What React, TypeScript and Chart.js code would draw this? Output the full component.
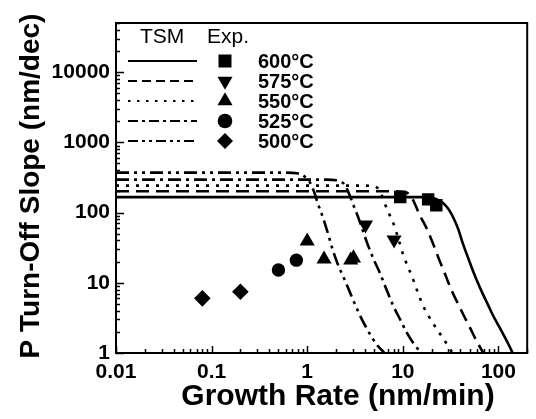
import React, { useEffect, useRef } from 'react';
import { Chart, registerables } from 'chart.js';

Chart.register(...registerables);

const FONT = "Arial, 'Liberation Sans', Helvetica, sans-serif";

// Axis ticks
const xTickValues = [0.01, 0.1, 1, 10, 100];
const xTickLabels = ['0.01', '0.1', '1', '10', '100'];
const yTickValues = [1, 10, 100, 1000, 10000];
const yTickLabels = ['1', '10', '100', '1000', '10000'];

const temperatureLabels = ['600°C', '575°C', '550°C', '525°C', '500°C'];

// TSM model curves
const tsm600X = [0.01, 16, 20, 23, 26.5, 30, 33.4, 38, 42.4, 48, 53.7, 60, 68.2, 77, 87, 98, 110, 125, 141, 160];
const tsm600Y = [166, 166, 163, 152, 136, 112, 87, 58, 36.3, 23, 15.2, 10.5, 7.07, 5, 3.5, 2.6, 1.95, 1.4, 1.0, 0.7];

const tsm575X = [0.01, 8, 10, 11.5, 12.8, 14, 15, 16.3, 17.7, 19.5, 21.4, 24.1, 27, 30, 33.4, 37.6, 43, 49.2, 58.1, 68.7, 78];
const tsm575Y = [201, 201, 198, 185, 150, 115, 92, 75, 60, 44, 32.2, 21, 14.5, 10, 7.1, 5.1, 3.5, 2.45, 1.55, 1.03, 0.75];

const tsm550X = [0.01, 4, 4.8, 5.4, 5.9, 6.3, 7.1, 8.0, 9.0, 10.1, 11.5, 12.9, 14.5, 16.3, 18.5, 20.9, 23.5, 26.5, 29.5, 32.8, 37];
const tsm550Y = [242, 242, 238, 225, 190, 148, 100, 69, 42, 25, 16, 10.9, 7, 4.7, 3.4, 2.6, 2.05, 1.6, 1.28, 1.02, 0.78];

const tsm525X = [0.01, 1.6, 2.0, 2.2, 2.43, 2.7, 3.08, 3.5, 4.23, 5.0, 5.77, 6.8, 8.0, 9.5, 11, 13.3, 15.7, 18];
const tsm525Y = [294, 294, 288, 276, 255, 195, 122, 78, 37, 21, 13.7, 7.8, 4.6, 2.9, 1.95, 1.3, 1.0, 0.8];

const tsm500X = [0.01, 0.6, 0.78, 0.9, 1.0, 1.09, 1.2, 1.29, 1.4, 1.52, 1.65, 1.84, 2.1, 2.45, 2.8, 3.11, 3.5, 4.04, 4.77, 5.5, 6.45, 7.5];
const tsm500Y = [370, 370, 362, 340, 300, 255, 185, 135, 100, 72, 50, 30, 18, 11.2, 7.3, 5.2, 3.6, 2.45, 1.65, 1.25, 1.0, 0.78];

// Experimental points
const exp600X = [9.4, 18.4, 22.4];
const exp600Y = [167, 154, 127];
const exp575X = [4.07, 8.1];
const exp575Y = [66.8, 41];
const exp550X = [1.0, 1.5, 2.85, 3.05];
const exp550Y = [39, 21.7, 21, 22.5];
const exp525X = [0.5, 0.77];
const exp525Y = [15.2, 21];
const exp500X = [0.08, 0.2];
const exp500Y = [6, 7.45];

const DASHES: number[][] = [[], [13, 7], [3, 7], [13, 5, 3, 5], [13, 5, 3, 5, 3, 5]];
const LEGEND_DASHES: number[][] = [[], [9, 5], [2.5, 6.5], [10, 4, 3, 4], [10, 4, 3, 4, 3, 4]];

const pts = (xs: number[], ys: number[]) => xs.map((x, i) => ({ x, y: ys[i] }));

function drawMarker(ctx: CanvasRenderingContext2D, kind: number, x: number, y: number) {
  ctx.beginPath();
  if (kind === 0) {
    const s = 13;
    ctx.rect(x - s / 2, y - s / 2, s, s);
  } else if (kind === 1) {
    const r = 8.7;
    ctx.moveTo(x, y + r);
    ctx.lineTo(x + r * 0.866, y - r / 2);
    ctx.lineTo(x - r * 0.866, y - r / 2);
    ctx.closePath();
  } else if (kind === 2) {
    const r = 8.7;
    ctx.moveTo(x, y - r);
    ctx.lineTo(x + r * 0.866, y + r / 2);
    ctx.lineTo(x - r * 0.866, y + r / 2);
    ctx.closePath();
  } else if (kind === 3) {
    ctx.arc(x, y, 7.3, 0, Math.PI * 2);
  } else {
    const r = 8;
    ctx.moveTo(x - r, y);
    ctx.lineTo(x, y - r);
    ctx.lineTo(x + r, y);
    ctx.lineTo(x, y + r);
    ctx.closePath();
  }
  ctx.fill();
}

const decorPlugin = {
  id: 'decor',
  afterDraw(chart: any) {
    const { ctx, chartArea: a, scales } = chart;
    const xs = scales.x;
    const ys = scales.y;
    ctx.save();
    ctx.strokeStyle = '#000';
    ctx.fillStyle = '#000';
    // frame
    ctx.lineWidth = 2;
    ctx.setLineDash([]);
    ctx.strokeRect(a.left, a.top, a.right - a.left, a.bottom - a.top);
    // inward ticks
    ctx.lineWidth = 1.5;
    ctx.beginPath();
    for (let e = -2; e <= 2; e++) {
      for (let m = 1; m <= 9; m++) {
        const v = m * Math.pow(10, e);
        if (v < xs.min - 1e-12 || v > xs.max) continue;
        const px = Math.round(xs.getPixelForValue(v)) + 0.5;
        const len = m === 1 ? 7 : 4;
        ctx.moveTo(px, a.bottom);
        ctx.lineTo(px, a.bottom - len);
      }
    }
    for (let e = 0; e <= 4; e++) {
      for (let m = 1; m <= 9; m++) {
        const v = m * Math.pow(10, e);
        if (v < ys.min || v > ys.max) continue;
        const py = Math.round(ys.getPixelForValue(v)) + 0.5;
        const len = m === 1 ? 8 : 4;
        ctx.moveTo(a.left, py);
        ctx.lineTo(a.left + len, py);
      }
    }
    ctx.stroke();

    // axis titles
    ctx.textAlign = 'center';
    ctx.textBaseline = 'middle';
    ctx.font = `bold 30px ${FONT}`;
    ctx.fillText('Growth Rate (nm/min)', 338, 397);
    ctx.save();
    ctx.translate(31, 186);
    ctx.rotate(-Math.PI / 2);
    ctx.font = `bold 28px ${FONT}`;
    ctx.fillText('P Turn-Off Slope (nm/dec)', 0, 0);
    ctx.restore();

    // legend
    ctx.textAlign = 'left';
    ctx.font = `21px ${FONT}`;
    ctx.fillText('TSM', 140, 37);
    ctx.fillText('Exp.', 207, 37);
    const rows = [61, 81, 101, 121, 141];
    ctx.font = `bold 20px ${FONT}`;
    rows.forEach((ry, i) => {
      ctx.lineWidth = 2;
      ctx.setLineDash(LEGEND_DASHES[i]);
      ctx.beginPath();
      ctx.moveTo(128, ry);
      ctx.lineTo(197, ry);
      ctx.stroke();
      ctx.setLineDash([]);
      drawMarker(ctx, i, 225, ry);
      ctx.fillText(temperatureLabels[i], 258, ry + 1);
    });
    ctx.restore();
  },
};

export default function App() {
  const ref = useRef<HTMLCanvasElement>(null);

  useEffect(() => {
    if (!ref.current) return;
    const curves = [
      pts(tsm600X, tsm600Y),
      pts(tsm575X, tsm575Y),
      pts(tsm550X, tsm550Y),
      pts(tsm525X, tsm525Y),
      pts(tsm500X, tsm500Y),
    ];
    const lineSets = curves.map((data, i) => ({
      label: 'TSM ' + temperatureLabels[i],
      data,
      showLine: true,
      borderColor: '#000',
      borderWidth: 2.6,
      borderDash: DASHES[i],
      borderCapStyle: 'butt' as const,
      pointRadius: 0,
      cubicInterpolationMode: 'monotone' as const,
      order: 2,
    }));
    const expSets = [
      { data: pts(exp600X, exp600Y), pointStyle: 'rect', pointRadius: 8.8, rotation: 0 },
      { data: pts(exp575X, exp575Y), pointStyle: 'triangle', pointRadius: 8.7, rotation: 180 },
      { data: pts(exp550X, exp550Y), pointStyle: 'triangle', pointRadius: 8.7, rotation: 0 },
      { data: pts(exp525X, exp525Y), pointStyle: 'circle', pointRadius: 6.7, rotation: 0 },
      { data: pts(exp500X, exp500Y), pointStyle: 'rectRot', pointRadius: 8.3, rotation: 0 },
    ].map((d, i) => ({
      label: 'Exp. ' + temperatureLabels[i],
      data: d.data,
      showLine: false,
      pointStyle: d.pointStyle,
      pointRadius: d.pointRadius,
      pointRotation: d.rotation,
      pointBackgroundColor: '#000',
      pointBorderWidth: 0,
      borderColor: '#000',
      backgroundColor: '#000',
      order: 1,
    }));

    const tickFont = { family: FONT, size: 21, weight: 'bold' as const };
    const chart = new Chart(ref.current, {
      type: 'scatter',
      data: { datasets: [...lineSets, ...expSets] as any },
      options: {
        animation: false,
        responsive: false,
        devicePixelRatio: 1,
        layout: { padding: { top: 23, right: 4, left: 0, bottom: 0 } },
        plugins: { legend: { display: false }, tooltip: { enabled: false } },
        scales: {
          x: {
            type: 'logarithmic',
            min: 0.01,
            max: 200,
            position: 'bottom',
            grid: { display: false, drawTicks: false },
            border: { display: false },
            ticks: {
              font: tickFont,
              color: '#000',
              padding: 7,
              autoSkip: false,
              maxRotation: 0,
              callback: (_v: any, i: number) => xTickLabels[i],
            },
            afterBuildTicks: (s: any) => {
              s.ticks = xTickValues.map((v) => ({ value: v }));
            },
            afterFit: (s: any) => {
              s.height = 66;
            },
          },
          y: {
            type: 'logarithmic',
            min: 1,
            max: 50000,
            position: 'left',
            grid: { display: false, drawTicks: false },
            border: { display: false },
            ticks: {
              font: tickFont,
              color: '#000',
              padding: 6,
              autoSkip: false,
              callback: (_v: any, i: number) => yTickLabels[i],
            },
            afterBuildTicks: (s: any) => {
              s.ticks = yTickValues.map((v) => ({ value: v }));
            },
            afterFit: (s: any) => {
              s.width = 116;
            },
          },
        },
      } as any,
      plugins: [decorPlugin],
    });
    return () => chart.destroy();
  }, []);

  return (
    <div style={{ position: 'absolute', left: 0, top: 0, width: 536, height: 419, background: '#fff' }}>
      <canvas ref={ref} width={536} height={419} style={{ display: 'block', width: 536, height: 419 }} />
    </div>
  );
}
